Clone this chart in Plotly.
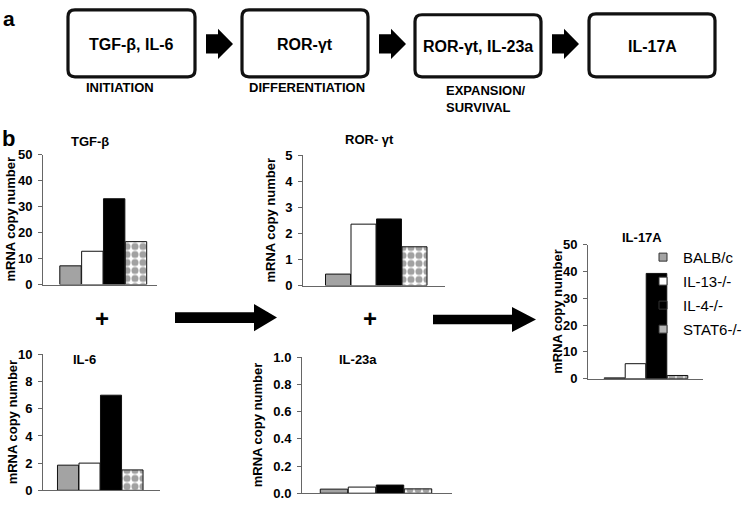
import plotly.graph_objects as go

# ---------------- data ----------------
genotypes = ["BALB/c", "IL-13-/-", "IL-4-/-", "STAT6-/-"]
tgfb = [7.2, 12.8, 33.0, 16.5]
rorgt = [0.44, 2.36, 2.56, 1.49]
il6 = [1.85, 2.0, 7.0, 1.5]
il23a = [0.03, 0.045, 0.06, 0.032]
il17a = [0.3, 5.6, 39.3, 1.2]

panel_titles = ["TGF-β", "ROR- γt", "IL-6", "IL-23a", "IL-17A"]
y_title = "mRNA copy number"
box_labels = ["TGF-β, IL-6", "ROR-γt", "ROR-γt, IL-23a", "IL-17A"]
stage_labels = ["INITIATION", "DIFFERENTIATION", "EXPANSION/<br>SURVIVAL"]

W, H = 750, 508
FONT = "Liberation Sans, Arial, sans-serif"


def px(x):
    return x / W


def py(y):
    return 1 - y / H


bar_colors = ["#a3a3a3", "#ffffff", "#000000", "#ffffff"]
bar_patterns = ["", "", "", "."]

fig = go.Figure()

# panel specs: values, axis px (x0,x1), bar centers first/last, y0 px (zero), y1 px (top), yrange top, dtick, fmt
panels = [
    (tgfb, 43, 157, 70.5, 136.0, 286, 152, 50, 10, None),
    (rorgt, 303, 445, 338.0, 414.5, 287, 153, 5, 1, None),
    (il6, 43, 160, 68.0, 132.5, 498, 358, 10, 2, None),
    (il23a, 302, 452, 334.0, 418.0, 501, 361, 1.0, 0.2, ".1f"),
    (il17a, 588, 703, 614.5, 677.5, 383, 245, 50, 10, None),
]

for i, (vals, ax0, ax1, c0, c3, y0, y1, ytop, dt, fmt) in enumerate(panels):
    n = i + 1
    xa = "x" if n == 1 else f"x{n}"
    ya = "y" if n == 1 else f"y{n}"
    step = (c3 - c0) / 3.0
    rlo = -(c0 - ax0) / step
    rhi = 3 + (ax1 - c3) / step
    fig.add_trace(go.Bar(
        x=genotypes, y=vals, xaxis=xa, yaxis=ya, showlegend=False,
        width=0.98,
        marker=dict(color=bar_colors, line=dict(color="#111111", width=1),
                    pattern=dict(shape=bar_patterns, fgcolor="#2a2a2a",
                                 size=8, solidity=0.62,
                                 fillmode="overlay")),
        hoverinfo="skip",
    ))
    xkey = "xaxis" if n == 1 else f"xaxis{n}"
    ykey = "yaxis" if n == 1 else f"yaxis{n}"
    fig.layout[xkey] = dict(
        domain=[px(ax0), px(ax1)], anchor=ya, type="category",
        range=[rlo, rhi], showline=True, linecolor="#666666", linewidth=1,
        showticklabels=False, ticks="", showgrid=False, zeroline=False,
        fixedrange=True,
    )
    yd = dict(
        domain=[py(y0), py(y1)], anchor=xa, range=[0, ytop], dtick=dt,
        tick0=0, showline=True, linecolor="#666666", linewidth=1,
        ticks="outside", ticklen=4, tickcolor="#666666", showgrid=False,
        zeroline=False, tickfont=dict(family=FONT, size=13, color="#000000",
                                      weight="bold"),
        ticklabelstandoff=3, fixedrange=True,
    )
    if fmt:
        yd["tickformat"] = fmt
    fig.layout[ykey] = yd

# legend-only traces
leg_colors = ["#a3a3a3", "#ffffff", "#000000", "#b5b5b5"]
for g, c in zip(genotypes, leg_colors):
    fig.add_trace(go.Scatter(
        x=[None], y=[None], mode="markers", name=g, xaxis="x5", yaxis="y5",
        legendgroup=g,
        marker=dict(symbol="square", size=8, color=c,
                    line=dict(color="#333333", width=1)),
    ))

annotations = []
shapes = []


def text(x, y, s, size, bold=True, xanchor="center", angle=0):
    annotations.append(dict(
        x=px(x), y=py(y), xref="paper", yref="paper", text=s,
        showarrow=False, xanchor=xanchor, yanchor="middle", textangle=angle,
        font=dict(family=FONT, size=size, color="#000000",
                  weight="bold" if bold else "normal"),
    ))


# panel letters
text(9, 12, "a", 21)
text(8, 135, "b", 22)

# panel titles
for s, (x, y) in zip(panel_titles, [(90, 139), (369, 137), (84, 363), (358, 363), (642, 238)]):
    text(x, y, s, 13)

# y axis titles
for x, (ya, yb) in zip([11, 271, 12, 257, 558], [(286, 152), (287, 153), (498, 358), (501, 361), (383, 245)]):
    text(x, (ya + yb) / 2, y_title, 13, angle=-90)

# plus signs
text(102, 321, "+", 24)
text(370, 321, "+", 24)


def rrect(x0, y0, x1, y1, r):
    X0, X1 = px(x0), px(x1)
    Y0, Y1 = py(y0), py(y1)
    rx, ry = r / W, r / H
    p = (f"M{X0+rx},{Y0} L{X1-rx},{Y0} Q{X1},{Y0} {X1},{Y0-ry} "
         f"L{X1},{Y1+ry} Q{X1},{Y1} {X1-rx},{Y1} L{X0+rx},{Y1} "
         f"Q{X0},{Y1} {X0},{Y1+ry} L{X0},{Y0-ry} Q{X0},{Y0} {X0+rx},{Y0} Z")
    shapes.append(dict(type="path", path=p, xref="paper", yref="paper",
                       line=dict(color="#111111", width=3.2),
                       fillcolor="rgba(0,0,0,0)"))


def arrow(x0, xh, x1, yc, bh, hh):
    pts = [(x0, yc - bh / 2), (xh, yc - bh / 2), (xh, yc - hh / 2), (x1, yc),
           (xh, yc + hh / 2), (xh, yc + bh / 2), (x0, yc + bh / 2)]
    p = "M" + " L".join(f"{px(a)},{py(b)}" for a, b in pts) + " Z"
    shapes.append(dict(type="path", path=p, xref="paper", yref="paper",
                       line=dict(color="#000000", width=0),
                       fillcolor="#000000"))


boxes = [(68, 3, 195, 72), (242, 3, 368, 72), (415, 8, 541, 72), (589, 7, 715, 72)]
for (x0, y0, x1, y1), lab in zip(boxes, box_labels):
    rrect(x0, y0, x1, y1, 7)
    text((x0 + x1) / 2, (y0 + y1) / 2 + 1, lab, 16)

for x0 in [206, 379, 552]:
    arrow(x0, x0 + 12, x0 + 27, 38, 20, 31)

text(120, 83, stage_labels[0], 13)
text(307, 83, stage_labels[1], 13)
annotations.append(dict(
    x=px(444), y=py(76), xref="paper", yref="paper", text=stage_labels[2],
    showarrow=False, xanchor="left", yanchor="top", align="left",
    font=dict(family=FONT, size=13, color="#000000", weight="bold"),
))

# big arrows
arrow(175, 254, 277, 320, 11, 28)
arrow(433, 512, 536, 322, 10, 26)

fig.update_layout(
    width=W, height=H, autosize=False,
    margin=dict(l=0, r=0, t=0, b=0),
    paper_bgcolor="#ffffff", plot_bgcolor="#ffffff",
    barmode="overlay", bargap=0,
    shapes=shapes, annotations=annotations,
    showlegend=True,
    legend=dict(x=px(643), y=py(241), xanchor="left", yanchor="top",
                bgcolor="rgba(0,0,0,0)", tracegroupgap=1.5, itemwidth=30,
                font=dict(family=FONT, size=15, color="#000000")),
)

fig.write_html(
    "out.html",
    config={"displayModeBar": False, "staticPlot": True},
    post_script="document.body.style.margin='0';document.body.style.overflow='hidden';",
)
